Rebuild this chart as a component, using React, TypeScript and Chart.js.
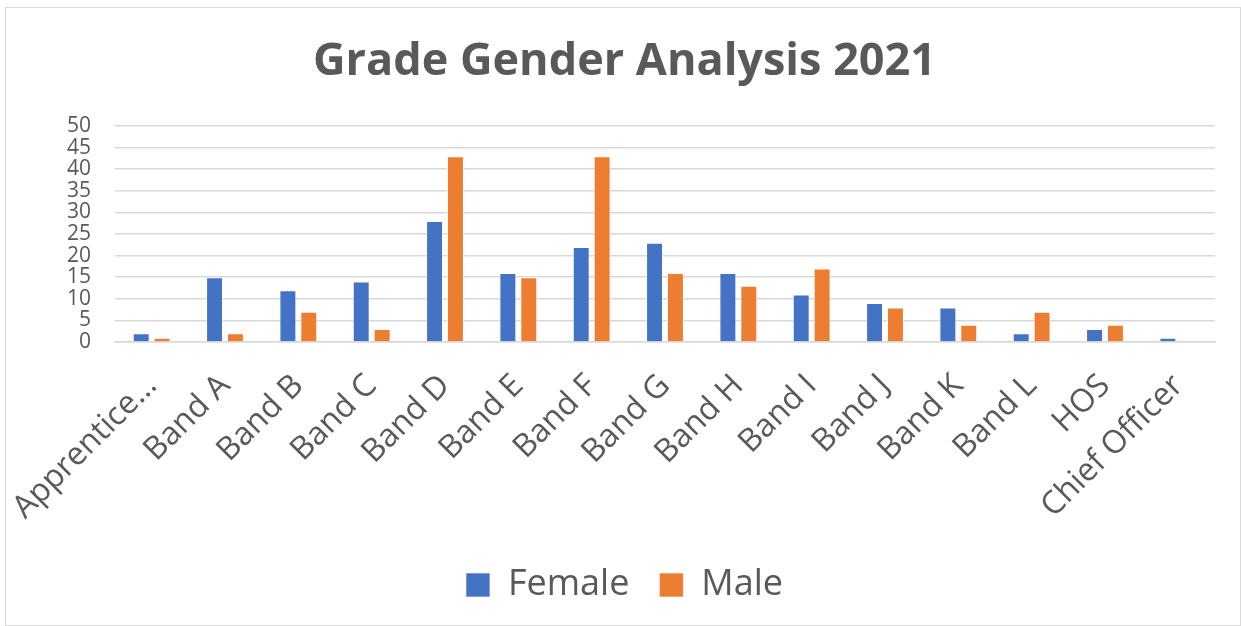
import React, { useEffect, useRef } from "react";
import { Chart, registerables } from "chart.js";

Chart.register(...registerables);

const categories = [
  "Apprentice…",
  "Band A",
  "Band B",
  "Band C",
  "Band D",
  "Band E",
  "Band F",
  "Band G",
  "Band H",
  "Band I",
  "Band J",
  "Band K",
  "Band L",
  "HOS",
  "Chief Officer",
];
const femaleValues = [2, 15, 12, 14, 28, 16, 22, 23, 16, 11, 9, 8, 2, 3, 1];
const maleValues = [1, 2, 7, 3, 43, 15, 43, 16, 13, 17, 8, 4, 7, 4, 0];
const titleText = "Grade Gender Analysis 2021";

export default function App() {
  const ref = useRef<HTMLCanvasElement | null>(null);

  useEffect(() => {
    document.body.style.margin = "0";
    if (!ref.current) return;
    const chart = new Chart(ref.current, {
      type: "bar",
      data: {
        labels: categories,
        datasets: [
          {
            label: "Female",
            data: femaleValues,
            backgroundColor: "#4472C4",
            borderColor: "rgba(255,255,255,0.6)",
            borderWidth: 1,
            barPercentage: 0.81,
            categoryPercentage: 0.57,
          },
          {
            label: "Male",
            data: maleValues,
            backgroundColor: "#ED7D31",
            borderColor: "rgba(255,255,255,0.6)",
            borderWidth: 1,
            barPercentage: 0.81,
            categoryPercentage: 0.57,
          },
        ],
      },
      options: {
        responsive: false,
        animation: false,
        layout: { padding: { left: 34, right: 26, top: 14, bottom: 13 } },
        plugins: {
          title: {
            display: true,
            text: titleText,
            color: "#595959",
            font: { family: "Open Sans", size: 45, weight: "bold" },
            padding: { top: 21, bottom: 37 },
          },
          legend: {
            position: "bottom",
            labels: {
              color: "#595959",
              font: { family: "Open Sans", size: 36 },
              boxWidth: 24,
              boxHeight: 24,
              padding: 30,
            },
          },
          tooltip: { enabled: false },
        },
        scales: {
          x: {
            grid: { display: false },
            border: { color: "#d9d9d9", width: 1.5 },
            ticks: {
              color: "#595959",
              font: { family: "Open Sans", size: 32 },
              minRotation: 45,
              maxRotation: 45,
              autoSkip: false,
              padding: 17,
            },
            afterFit: (scale: any) => {
              scale.height = 195;
              scale.paddingLeft = 0;
              scale.paddingRight = 0;
            },
          },
          y: {
            min: 0,
            max: 50,
            ticks: {
              stepSize: 5,
              autoSkip: false,
              color: "#595959",
              font: { family: "Open Sans", size: 21 },
              padding: 24,
            },
            afterFit: (scale: any) => {
              scale.width = 81;
            },
            grid: { color: "#d9d9d9", lineWidth: 1.5, drawTicks: false },
            border: { display: false },
          },
        },
      },
    });
    return () => chart.destroy();
  }, []);

  return (
    <div style={{ position: "absolute", left: 0, top: 0, width: 1241, height: 626, background: "#fff" }}>
      <div
        style={{
          position: "absolute",
          left: 5,
          top: 7,
          width: 1236,
          height: 619,
          border: "1px solid #d9d9d9",
          boxSizing: "border-box",
        }}
      />
      <canvas ref={ref} width={1241} height={626} style={{ position: "absolute", left: 0, top: 0 }} />
    </div>
  );
}
